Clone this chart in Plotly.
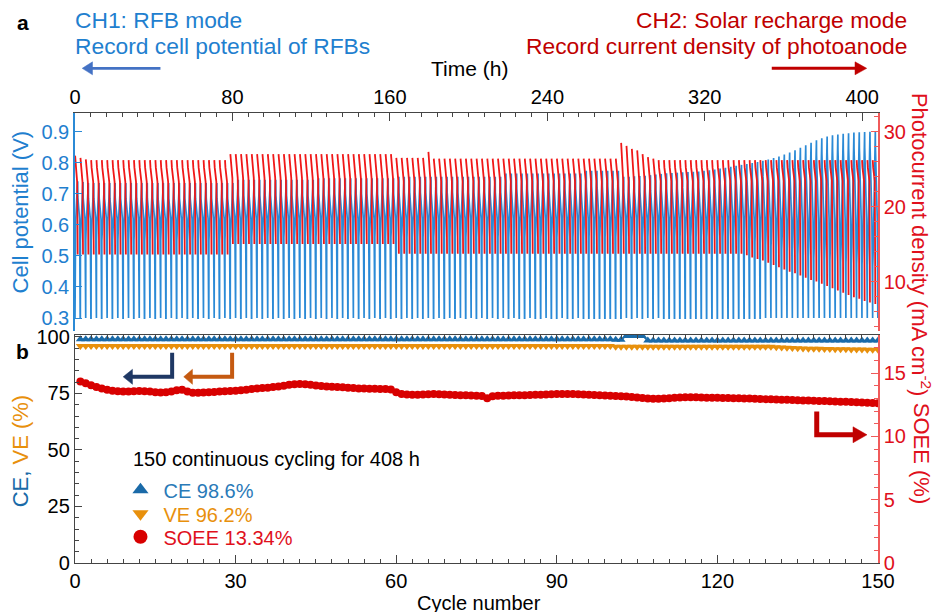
import plotly.graph_objects as go

# ---------------- data ----------------
N_CYCLES = 150
TOTAL_HOURS = 408
cycles = list(range(1, N_CYCLES + 1))

# panel a: per-cycle envelope of the cell potential (V)
v_top = ([0.740, 0.738] + [0.735] * 28 + [0.745] * 15 + [0.750] * 15 + [0.755] * 20
         + [0.765] * 15 + [0.774] * 7
         + [0.755, 0.755, 0.756, 0.757, 0.758, 0.760, 0.762, 0.764]
         + [0.766, 0.767, 0.768, 0.769, 0.770, 0.771, 0.772, 0.774, 0.776, 0.778]
         + [0.781, 0.784, 0.787, 0.790, 0.793, 0.796, 0.799, 0.802, 0.806, 0.810]
         + [0.815, 0.820, 0.826, 0.833, 0.840, 0.848, 0.856, 0.864, 0.872, 0.879]
         + [0.884, 0.888, 0.891, 0.893, 0.895, 0.897, 0.898, 0.899, 0.900, 0.900])
v_charge_start = ([0.55] * 30 + [0.56] * 95
                  + [0.555, 0.55, 0.545, 0.54, 0.535, 0.53, 0.525, 0.52, 0.515, 0.51,
                     0.505, 0.50, 0.497, 0.494, 0.491, 0.488, 0.485, 0.482, 0.48, 0.478,
                     0.476, 0.474, 0.472, 0.47, 0.468])
V_CUTOFF = 0.30
V_DISCHARGE_KNEE = 0.62

# panel a: per-cycle envelope of the photocurrent density (mA cm-2)
j_top = ([26.8, 26.5, 26.3] + [26.2] * 26 + [27.0] * 31 + [26.5] * 6 + [27.3]
         + [26.4] * 35 + [28.5, 28.1, 27.7, 27.5, 27.0] + [26.6, 26.4] + [26.2] * 41)
j_knee = [23.3] * 29 + [23.8] * 31 + [23.4] * 90
j_bottom = ([13.6] * 29 + [15.0] * 31 + [13.7] * 65
            + [13.5, 13.2, 13.0, 12.8, 12.5, 12.2, 11.9, 11.6, 11.3, 11.1, 10.8, 10.5, 10.2,
               10.0, 9.7, 9.4, 9.1, 8.8, 8.5, 8.2, 7.9, 7.7, 7.4, 7.2, 7.0])

# panel b: efficiencies (%)
ce = [98.9] * 100 + [98.7] * 2 + [100.4] * 4 + [98.4] * 44
ve = ([96.0] * 100 + [95.6] * 30
      + [95.4, 95.3, 95.2, 95.1, 95.0, 94.9, 94.8, 94.7, 94.7, 94.6,
         94.6, 94.5, 94.5, 94.5, 94.4, 94.4, 94.4, 94.3, 94.3, 94.3])
soee = [14.35, 14.20, 14.05, 13.90, 13.80, 13.70, 13.62, 13.58, 13.55, 13.55,
        13.58, 13.60, 13.58, 13.55, 13.50, 13.48, 13.50, 13.55, 13.65, 13.70,
        13.55, 13.45, 13.45, 13.48, 13.50, 13.52, 13.55, 13.58, 13.60, 13.62,
        13.65, 13.70, 13.75, 13.80, 13.82, 13.85, 13.90, 13.95, 14.00, 14.08,
        14.12, 14.15, 14.12, 14.08, 14.02, 13.98, 13.95, 13.92, 13.90, 13.88,
        13.85, 13.82, 13.80, 13.80, 13.78, 13.78, 13.76, 13.75, 13.72, 13.50,
        13.35, 13.32, 13.30, 13.30, 13.32, 13.34, 13.35, 13.34, 13.32, 13.30,
        13.28, 13.26, 13.25, 13.24, 13.22, 13.20, 13.02, 13.18, 13.22, 13.22,
        13.24, 13.25, 13.26, 13.26, 13.28, 13.30, 13.30, 13.32, 13.34, 13.35,
        13.36, 13.36, 13.35, 13.34, 13.32, 13.30, 13.28, 13.26, 13.24, 13.22,
        13.20, 13.18, 13.16, 13.12, 13.08, 13.04, 13.00, 12.98, 12.98, 13.00,
        13.02, 13.05, 13.08, 13.10, 13.10, 13.10, 13.08, 13.06, 13.05, 13.05,
        13.04, 13.03, 13.02, 13.02, 13.00, 13.00, 12.98, 12.96, 12.95, 12.94,
        12.92, 12.90, 12.90, 12.88, 12.86, 12.85, 12.84, 12.82, 12.80, 12.80,
        12.78, 12.76, 12.75, 12.74, 12.72, 12.70, 12.68, 12.66, 12.64, 12.62]

legend_labels = ["CE 98.6%", "VE 96.2%", "SOEE 13.34%"]

# ---------------- styling ----------------
FONT = "Liberation Sans, Arial, sans-serif"
BLUE_TRACE = "#2b8ad6"
BLUE_TXT = "#1f80cf"
LEG_BLUE = "#2a7ab8"
RED_TRACE = "#f01818"
RED_TXT = "#e0101c"
RED_AXIS = "#f05a5a"
DARK_RED = "#c00000"
CE_COL = "#1a6aa8"
VE_COL = "#e8900c"
SOEE_COL = "#d80000"
AX = "#444444"

W_FIG, H_FIG = 935, 612
ML, MR, MT, MB = 74.5, 57, 113, 48.7
PW = W_FIG - ML - MR
PH = H_FIG - MT - MB


def px(x):
    return (x - ML) / PW


def py(y):
    return (H_FIG - MB - y) / PH


# ---------------- build the cycling waveforms ----------------
period = TOTAL_HOURS / N_CYCLES
bx, by, rx, ry = [], [], [], []
for i in range(N_CYCLES):
    t0 = i * period
    blue_seq = [(0.00, V_CUTOFF), (0.02, v_charge_start[i]), (0.12, v_charge_start[i] + 0.06),
                (0.44, v_top[i] - 0.015), (0.50, v_top[i]), (0.52, v_top[i] - 0.05),
                (0.86, V_DISCHARGE_KNEE), (0.97, V_CUTOFF)]
    for f, v in blue_seq:
        bx.append(t0 + f * period)
        by.append(v)
    red_seq = [(0.02, j_top[i]), (0.10, j_top[i] - 1.0), (0.40, j_knee[i]), (0.50, j_bottom[i])]
    for f, j in red_seq:
        rx.append(t0 + f * period)
        ry.append(j)
    rx.append(None)
    ry.append(None)

fig = go.Figure()
fig.add_trace(go.Scatter(x=bx, y=by, mode="lines", line=dict(color=BLUE_TRACE, width=1.7),
                         xaxis="x2", yaxis="y3", showlegend=False, hoverinfo="skip"))
fig.add_trace(go.Scatter(x=rx, y=ry, mode="lines", line=dict(color=RED_TRACE, width=1.8),
                         xaxis="x2", yaxis="y4", showlegend=False, hoverinfo="skip",
                         connectgaps=False))

# panel b
fig.add_trace(go.Scatter(x=cycles, y=ve, mode="lines+markers",
                         line=dict(color=VE_COL, width=1.5),
                         marker=dict(symbol="triangle-down", size=8, color=VE_COL),
                         xaxis="x", yaxis="y", showlegend=False))
fig.add_trace(go.Scatter(x=cycles, y=ce, mode="lines+markers",
                         line=dict(color=CE_COL, width=1.5),
                         marker=dict(symbol="triangle-up", size=8, color=CE_COL),
                         xaxis="x", yaxis="y", showlegend=False))
fig.add_trace(go.Scatter(x=cycles, y=soee, mode="lines+markers",
                         line=dict(color=SOEE_COL, width=1.5),
                         marker=dict(symbol="circle", size=8, color=SOEE_COL),
                         xaxis="x", yaxis="y2", showlegend=False))

# legend keys (one legend per row for exact spacing)
leg_specs = [("legend", "triangle-up", CE_COL, LEG_BLUE, 490),
             ("legend2", "triangle-down", VE_COL, VE_COL, 514),
             ("legend3", "circle", SOEE_COL, RED_TXT, 537)]
for (lg, sym, mcol, tcol, _), lab in zip(leg_specs, legend_labels):
    fig.add_trace(go.Scatter(x=[None], y=[None], mode="markers",
                             marker=dict(symbol=sym, size=14, color=mcol),
                             name=f"<span style='color:{tcol}'>{lab}</span>",
                             legend=lg, xaxis="x", yaxis="y", showlegend=True))

tick_font = dict(family=FONT, size=20, color="black")
layout = dict(
    width=W_FIG, height=H_FIG,
    margin=dict(l=ML, r=MR, t=MT, b=MB, pad=0),
    paper_bgcolor="white", plot_bgcolor="white",
    font=dict(family=FONT, size=20, color="black"),
    xaxis=dict(domain=[0, 1], anchor="y", range=[0, 150], tick0=0, dtick=30,
               ticks="inside", ticklen=8, tickwidth=1.3, tickcolor=AX,
               showline=True, linecolor=AX, linewidth=1.3, mirror="ticks",
               minor=dict(dtick=3, tick0=0, ticks="inside", ticklen=4, tickcolor=AX, tickwidth=1),
               showgrid=False, zeroline=False, tickfont=tick_font),
    xaxis2=dict(domain=[0, 1], anchor="y3", side="top", range=[0, TOTAL_HOURS], tick0=0, dtick=80,
                ticks="inside", ticklen=8, tickwidth=1.3, tickcolor=AX,
                showline=True, linecolor=AX, linewidth=1.3,
                minor=dict(dtick=8, tick0=0, ticks="inside", ticklen=4, tickcolor=AX, tickwidth=1),
                showgrid=False, zeroline=False, tickfont=tick_font),
    yaxis=dict(domain=[0, 0.507], anchor="x", range=[0, 100.9], tick0=0, dtick=25,
               ticks="inside", ticklen=7, tickwidth=1.3, tickcolor=AX,
               showline=True, linecolor=AX, linewidth=1.3,
               minor=dict(dtick=5, tick0=0, ticks="inside", ticklen=4, tickcolor=AX, tickwidth=1),
               showgrid=False, zeroline=False, tickfont=tick_font),
    yaxis2=dict(overlaying="y", side="right", anchor="x", range=[0, 18.03], tick0=0, dtick=5,
                ticks="inside", ticklen=7, tickwidth=1.3, tickcolor=RED_AXIS,
                showline=True, linecolor=RED_AXIS, linewidth=1.5,
                minor=dict(dtick=1, tick0=0, ticks="inside", ticklen=4, tickcolor=RED_AXIS, tickwidth=1),
                showgrid=False, zeroline=False, tickfont=dict(family=FONT, size=20, color=RED_TXT)),
    yaxis3=dict(domain=[0.516, 1], anchor="x2", range=[0.259, 0.960], tick0=0.3, dtick=0.1,
                ticks="inside", ticklen=7, tickwidth=1.3, tickcolor=BLUE_TRACE,
                showline=True, linecolor=BLUE_TRACE, linewidth=1.5,
                showgrid=False, zeroline=False, tickfont=dict(family=FONT, size=20, color=BLUE_TXT)),
    yaxis4=dict(overlaying="y3", side="right", anchor="x2", range=[3.43, 32.49], tick0=0, dtick=10,
                ticks="inside", ticklen=7, tickwidth=1.3, tickcolor=RED_AXIS,
                showline=True, linecolor=RED_AXIS, linewidth=1.5,
                minor=dict(dtick=2, tick0=0, ticks="inside", ticklen=4, tickcolor=RED_AXIS, tickwidth=1),
                showgrid=False, zeroline=False, tickfont=dict(family=FONT, size=20, color=RED_TXT)),
)
for lg, _, _, _, yrow in leg_specs:
    layout[lg] = dict(x=px(117), y=py(yrow), xanchor="left", yanchor="middle",
                      bgcolor="rgba(0,0,0,0)", borderwidth=0,
                      font=dict(family=FONT, size=20), itemwidth=36)
fig.update_layout(**layout)


def note(text, x, y, size=20, color="black", xanchor="center", angle=0, bold=False):
    if bold:
        text = f"<b>{text}</b>"
    fig.add_annotation(text=text, x=px(x), y=py(y), xref="paper", yref="paper",
                       xanchor=xanchor, yanchor="middle", showarrow=False, textangle=angle,
                       font=dict(family=FONT, size=size, color=color))


note("a", 22, 22, size=21, bold=True)
note("b", 22, 352, size=21, bold=True)
note("CH1: RFB mode", 72, 20, size=22.8, color=BLUE_TXT, xanchor="left")
note("Record cell potential of RFBs", 72, 46, size=22.8, color=BLUE_TXT, xanchor="left")
note("CH2: Solar recharge mode", 909, 20, size=22.8, color=DARK_RED, xanchor="right")
note("Record current density of photoanode", 909, 46, size=22.8, color=DARK_RED, xanchor="right")
note("Time (h)", 469, 68, size=21)
note("Cell potential (V)", 20, 212, size=22, color=BLUE_TXT, angle=-90)
note(f"<span style='color:{CE_COL}'>CE, </span><span style='color:{VE_COL}'>VE (%)</span>",
     20, 452, size=22, angle=-90)
note("Photocurrent density (mA cm<sup>-2</sup>)", 921, 245, size=22, color=RED_TXT, angle=90)
note("SOEE (%)", 921, 454, size=22, color=RED_TXT, angle=90)
note("150 continuous cycling for 408 h", 131, 459, size=20, xanchor="left")
note("Cycle number", 479, 603, size=20)

# arrows
shapes = []


def line(pts, color, width):
    path = "M " + " L ".join(f"{px(x)},{py(y)}" for x, y in pts)
    shapes.append(dict(type="path", path=path, xref="paper", yref="paper",
                       line=dict(color=color, width=width), fillcolor="rgba(0,0,0,0)"))


def head(tip_x, tip_y, base_x, half, color):
    path = (f"M {px(tip_x)},{py(tip_y)} L {px(base_x)},{py(tip_y - half)} "
            f"L {px(base_x)},{py(tip_y + half)} Z")
    shapes.append(dict(type="path", path=path, xref="paper", yref="paper",
                       line=dict(color=color, width=0.5), fillcolor=color))


line([(160, 68.3), (90, 68.3)], "#4472c4", 2.7)
head(81.7, 68.3, 92, 6.5, "#4472c4")
line([(771.7, 68.3), (857, 68.3)], DARK_RED, 3)
head(866.7, 68.3, 855, 6.5, DARK_RED)
line([(171.7, 353), (171.7, 377), (130, 377)], "#1f3864", 4)
head(122.7, 377, 132, 7.5, "#1f3864")
line([(231.7, 353), (231.7, 377), (190, 377)], "#c55a11", 4)
head(183.3, 377, 192, 7.5, "#c55a11")
line([(816.7, 411.7), (816.7, 435), (855, 435)], DARK_RED, 5)
head(867, 435, 853, 8, DARK_RED)
fig.update_layout(shapes=shapes)

fig.write_html("out.html")
